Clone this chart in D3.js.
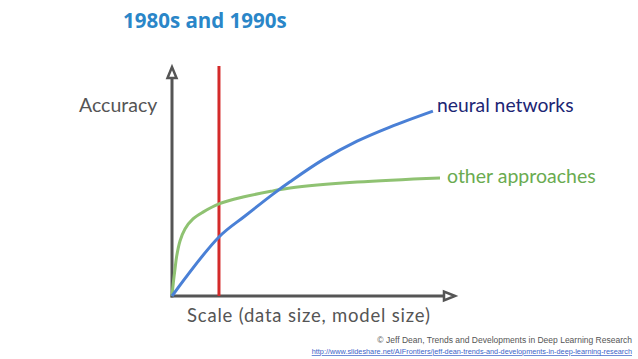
<!DOCTYPE html>
<html>
<head>
<meta charset="utf-8">
<script src="https://cdn.jsdelivr.net/npm/d3@7"></script>
<style>
  html, body { margin: 0; padding: 0; background: #fff; }
  svg { display: block; }
</style>
</head>
<body>
<div id="chart"></div>
<script>
// curves (x = scale, y = accuracy, both 0..100)
const neuralX = [0, 16.6, 25.8, 35.7, 41.7, 53.4, 65.4, 77, 92.2];
const neuralY = [0, 25.9, 35.1, 44.7, 50.1, 59.8, 67.9, 74.1, 81.1];
const otherX = [0, 0.46, 1.06, 1.66, 2.83, 4.59, 7.42, 10.95, 16.6, 25.1, 35.7, 41.7, 65.4, 94.7];
const otherY = [0, 5.7, 11.8, 17.5, 24.1, 29.4, 33.8, 36.8, 40.4, 43.4, 46.1, 47.4, 50, 51.8];
const threshold = 16.6;
const seriesLabels = ["neural networks", "other approaches"];

const width = 638;
const height = 359;
const origin = {x: 172, y: 296};

const x = d3.scaleLinear().domain([0, 100]).range([origin.x, 455]);
const y = d3.scaleLinear().domain([0, 100]).range([origin.y, 68]);

const svg = d3.select("#chart").append("svg")
    .attr("width", width)
    .attr("height", height);

const axisColor = "#555";

// y axis
svg.append("line")
    .attr("x1", x(0)).attr("y1", y(0) + 1.5)
    .attr("x2", x(0)).attr("y2", y(100) + 10)
    .attr("stroke", axisColor).attr("stroke-width", 3);
svg.append("path")
    .attr("d", `M${x(0)},${y(100) - 1} L${x(0) - 4.5},${y(100) + 10} L${x(0) + 4.5},${y(100) + 10} Z`)
    .attr("fill", "#fff").attr("stroke", axisColor).attr("stroke-width", 2.5);

// x axis
svg.append("line")
    .attr("x1", x(0) - 1.5).attr("y1", y(0))
    .attr("x2", x(100) - 12).attr("y2", y(0))
    .attr("stroke", axisColor).attr("stroke-width", 3);
svg.append("path")
    .attr("d", `M${x(100)},${y(0)} L${x(100) - 11},${y(0) - 4.5} L${x(100) - 11},${y(0) + 4.5} Z`)
    .attr("fill", "#fff").attr("stroke", axisColor).attr("stroke-width", 2.5);

// threshold
svg.append("line")
    .attr("x1", x(threshold)).attr("y1", y(0))
    .attr("x2", x(threshold)).attr("y2", 66)
    .attr("stroke", "#d42a2a").attr("stroke-width", 3);

const line = d3.line()
    .x(d => x(d[0]))
    .y(d => y(d[1]))
    .curve(d3.curveCatmullRom.alpha(0.5));

svg.append("path")
    .datum(otherX.map((v, i) => [v, otherY[i]]))
    .attr("d", line)
    .attr("fill", "none")
    .attr("stroke", "#8fc272")
    .attr("stroke-width", 3);

svg.append("path")
    .datum(neuralX.map((v, i) => [v, neuralY[i]]))
    .attr("d", line)
    .attr("fill", "none")
    .attr("stroke", "#4a80d6")
    .attr("stroke-width", 3);

const labelFont = "Lato, 'Open Sans', sans-serif";

svg.append("text")
    .attr("x", 437).attr("y", 112)
    .attr("font-family", labelFont).attr("font-size", 19.3)
    .attr("fill", "#1c2574")
    .text(seriesLabels[0]);

svg.append("text")
    .attr("x", 447).attr("y", 183)
    .attr("font-family", labelFont).attr("font-size", 19.5)
    .attr("fill", "#6aab50")
    .text(seriesLabels[1]);

svg.append("text")
    .attr("x", 79).attr("y", 112)
    .attr("font-family", labelFont).attr("font-size", 19.5)
    .attr("fill", "#555")
    .text("Accuracy");

svg.append("text")
    .attr("x", 187).attr("y", 322)
    .attr("font-family", labelFont).attr("font-size", 18.5)
    .attr("letter-spacing", 0.8)
    .attr("fill", "#555")
    .text("Scale (data size, model size)");

svg.append("text")
    .attr("x", 123).attr("y", 28)
    .attr("font-family", "'Open Sans', sans-serif").attr("font-size", 20.5)
    .attr("font-weight", "bold")
    .attr("fill", "#2a86c8")
    .text("1980s and 1990s");

svg.append("text")
    .attr("x", 632).attr("y", 343)
    .attr("text-anchor", "end")
    .attr("font-family", "'Liberation Sans', Arial, sans-serif").attr("font-size", 8.5)
    .attr("fill", "#555")
    .text("© Jeff Dean, Trends and Developments in  Deep Learning Research");

svg.append("text")
    .attr("x", 632).attr("y", 354)
    .attr("text-anchor", "end")
    .attr("font-family", "'Liberation Sans', Arial, sans-serif").attr("font-size", 7.3)
    .attr("fill", "#3a63c8")
    .attr("text-decoration", "underline")
    .text("http://www.slideshare.net/AIFrontiers/jeff-dean-trends-and-developments-in-deep-learning-research");
</script>
</body>
</html>
